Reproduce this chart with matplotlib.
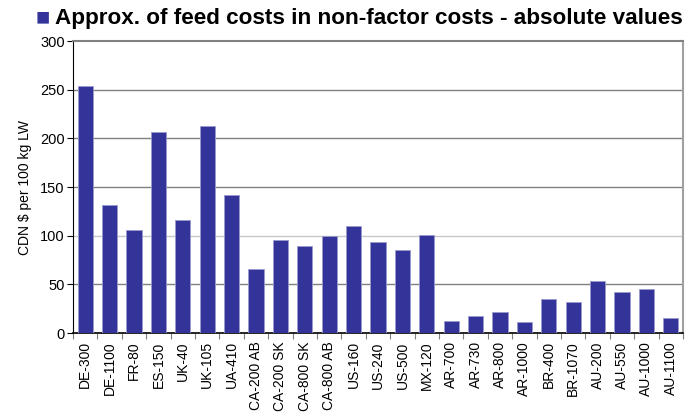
import numpy as np
import matplotlib.pyplot as plt
from matplotlib.ticker import FixedLocator

plt.rcParams["font.family"] = ["Liberation Sans", "DejaVu Sans"]

farms = ["DE-300", "DE-1100", "FR-80", "ES-150", "UK-40", "UK-105", "UA-410",
         "CA-200 AB", "CA-200 SK", "CA-800 SK", "CA-800 AB", "US-160", "US-240",
         "US-500", "MX-120", "AR-700", "AR-730", "AR-800", "AR-1000", "BR-400",
         "BR-1070", "AU-200", "AU-550", "AU-1000", "AU-1100"]
feed_costs = [254, 132, 106, 207, 116, 213, 142, 66, 96, 89, 100, 110, 93,
              85, 101, 12, 17, 22, 11, 35, 32, 53, 42, 45, 15]
y_ticks = [0, 50, 100, 150, 200, 250, 300]

bar_color = "#333399"

fig = plt.figure(figsize=(6.9, 4.13), dpi=100)
ax = fig.add_axes([0.1058, 0.1937, 0.8841, 0.707])

x = np.arange(len(farms))
ax.bar(x, feed_costs, width=0.62, color=bar_color, edgecolor="#9a9acc",
       linewidth=0.6, zorder=3)

ax.set_xlim(-0.5, len(farms) - 0.5)
ax.set_ylim(0, 300)
ax.set_yticks(y_ticks)
ax.tick_params(axis="y", labelsize=10.5, length=4, width=0.8, pad=2)

# horizontal gridlines (100 line lighter, like the original)
for v in y_ticks[1:-1]:
    ax.axhline(v, color="#c8c8c8" if v == 100 else "#808080", linewidth=1, zorder=1)

ax.set_xticks(x)
ax.set_xticklabels(farms, rotation=90, fontsize=10)
ax.tick_params(axis="x", length=0, pad=6)
ax.xaxis.set_minor_locator(FixedLocator(np.arange(-0.5, len(farms), 1)))
ax.tick_params(axis="x", which="minor", length=4, width=0.8, color="#808080")

ax.spines["left"].set_color("black")
ax.spines["bottom"].set_color("black")
ax.spines["bottom"].set_linewidth(1.2)
ax.spines["top"].set_color("#808080")
ax.spines["top"].set_linewidth(1.5)
ax.spines["right"].set_color("#a0a0a0")
ax.spines["right"].set_linewidth(1.5)

ax.set_ylabel("CDN \\$ per 100 kg LW", fontsize=10, labelpad=6)

# title with square bullet
fig.text(0.052, 0.956, "\u25A0", color=bar_color, fontsize=17, va="center", ha="left")
fig.text(0.079, 0.956, "Approx. of feed costs in non-factor costs - absolute values",
         fontsize=16.2, fontweight="bold", va="center", ha="left")

fig.savefig("out.png", dpi=100)
